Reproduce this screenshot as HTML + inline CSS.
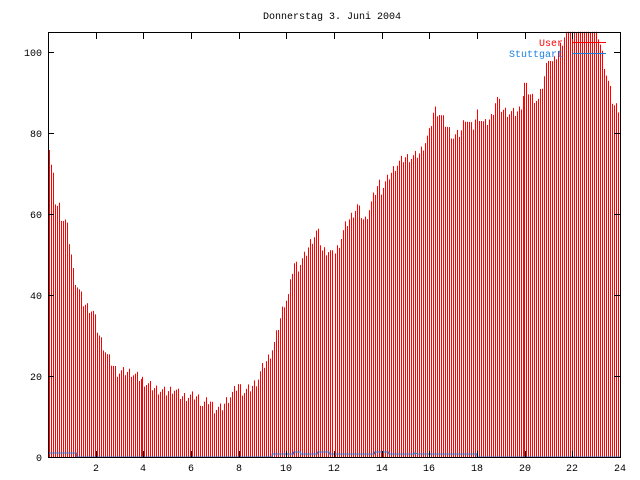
<!DOCTYPE html>
<html><head><meta charset="utf-8"><style>
html,body{margin:0;padding:0;background:#fff;}
svg{display:block;}
text{font-family:"Liberation Mono","DejaVu Sans Mono",monospace;font-size:10px;}
</style></head><body>
<svg id="s" width="640" height="480" xmlns="http://www.w3.org/2000/svg">
<rect width="640" height="480" fill="#fff"/>
<g id="bars"></g>
<polyline id="blue" fill="none" stroke="#1a7fe0" stroke-width="1"/>
<rect x="48.5" y="32.5" width="572" height="425" fill="none" stroke="#000"/>
<g id="ticks" stroke="#000"></g>
<g id="labels"></g>
<text x="332" y="19" text-anchor="middle">Donnerstag 3. Juni 2004</text>
<text x="563" y="46" text-anchor="end" fill="#ff0000">User</text>
<line x1="572" y1="42.5" x2="606" y2="42.5" stroke="#ff0000"/>
<text x="563" y="57" text-anchor="end" fill="#1a7fe0">Stuttgart</text>
<line x1="572" y1="53.5" x2="606" y2="53.5" stroke="#1a7fe0"/>
</svg>
<script>
var k=[[0,77],[0.1,74],[0.25,69],[0.35,62],[0.5,62],[0.6,59],[0.8,58],[0.9,54],[1.0,50],[1.1,45],[1.2,43],[1.4,40],[1.5,38],[1.7,37],[1.9,36],[2.0,34],[2.1,31],[2.3,28],[2.5,25],[2.7,23],[2.9,21],[3.2,21],[3.5,21],[3.7,20],[4.0,19],[4.2,18],[4.5,17],[5.0,16],[5.3,17],[5.6,15],[6.0,15],[6.3,15],[6.5,13],[6.8,14],[7.0,12],[7.3,12],[7.5,14],[7.8,16],[8.0,18],[8.2,16],[8.5,17],[8.8,19],[9.0,22],[9.3,25],[9.5,28],[9.7,33],[9.9,38],[10.1,40],[10.3,48],[10.5,47],[10.8,50],[11.0,53],[11.3,56],[11.5,51],[11.8,51],[12.0,49],[12.2,52],[12.5,57],[12.8,60],[13.0,62],[13.3,58],[13.6,63],[13.9,68],[14.0,66],[14.3,69],[14.6,72],[15.0,74],[15.3,74],[15.6,75],[16.0,80],[16.2,86],[16.4,85],[16.7,82],[17.0,79],[17.3,80],[17.5,84],[17.8,81],[18.0,85],[18.3,82],[18.6,84],[18.8,89],[19.0,86],[19.3,85],[19.6,85],[19.8,86],[20.0,92],[20.3,89],[20.6,88],[20.8,93],[21.0,99],[21.2,97],[21.4,100],[21.6,103],[21.8,106],[23.0,106],[23.2,101],[23.4,95],[23.6,90],[23.7,87],[24,86]];
function f(h){for(var i=1;i<k.length;i++){if(h<=k[i][0]){var a=k[i-1],b=k[i];return a[1]+(b[1]-a[1])*(h-a[0])/(b[0]-a[0]);}}return 86;}
var s='',px=572/288;
for(var i=0;i<288;i++){var h=i/12;var v=f(h)+((i*37)%7-3)*0.4;if(v>105)v=105;if(v<0)v=0;
var y=457-v*4.05;var wide=(h>=4&&h<12)||h>=20;var x0;
if(wide){x0=2*Math.floor((48+i*px)/2);}
else{x0=2*Math.floor((48+i*px)/2)+1;}
s+='<rect x="'+x0+'" y="'+y.toFixed(1)+'" width="1" height="'+(457-y).toFixed(1)+'" fill="#ff0000"/>';}
document.getElementById('bars').innerHTML=s;
function X(h){return 48+h*572/24;}
var bp=[[0,453],[1.2,453],[1.2,457],[9.4,457],[9.4,454],[10.3,454],[10.3,452],[10.6,452],[10.6,454],[11.3,454],[11.3,452],[11.8,452],[11.8,454],[13.7,454],[13.7,452],[14.3,452],[14.3,454],[15.4,454],[15.4,452.5],[15.5,454],[18.0,454],[18.0,457],[24,457]];
document.getElementById('blue').setAttribute('points',bp.map(function(p){return X(p[0]).toFixed(1)+','+p[1];}).join(' '));
var t='',l='<text x="42" y="461" text-anchor="end">0</text>';
for(var h=2;h<=24;h+=2){var x=Math.round(X(h))+0.5;t+='<line x1="'+x+'" y1="457" x2="'+x+'" y2="451"/><line x1="'+x+'" y1="33" x2="'+x+'" y2="39"/>';l+='<text x="'+(x-0.5)+'" y="471" text-anchor="middle">'+h+'</text>';}
for(var v=0;v<=100;v+=20){var y=Math.round(457-v*4.05)+0.5;t+='<line x1="48" y1="'+y+'" x2="54" y2="'+y+'"/><line x1="620" y1="'+y+'" x2="614" y2="'+y+'"/>';if(v>0)l+='<text x="42" y="'+(y+3.5)+'" text-anchor="end">'+v+'</text>';}
document.getElementById('ticks').innerHTML=t;document.getElementById('labels').innerHTML=l;
</script>
</body></html>
